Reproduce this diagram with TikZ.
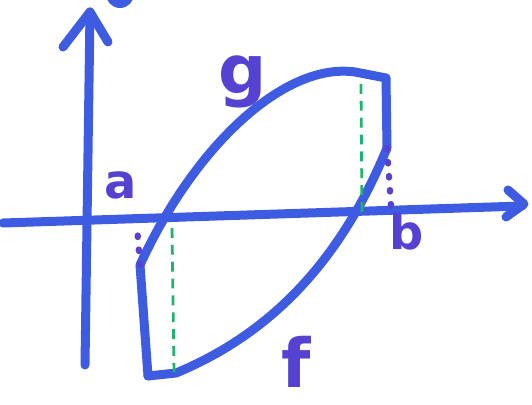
\documentclass[tikz,border=0pt]{standalone}
\usepackage{tikz}
\usepackage{fontspec}
\usetikzlibrary{calc}
\newfontfamily\handfont{DejaVu Sans}
\definecolor{penblue}{RGB}{62,92,226}
\definecolor{penpurple}{RGB}{86,66,210}
\definecolor{pengreen}{RGB}{30,180,110}

\tikzset{
  pen/.style={penblue, line width=6.4pt, line cap=round, line join=round},
  helper/.style={pengreen, line width=2pt, dash pattern=on 7pt off 5pt},
  dots/.style={penpurple, line width=4.5pt, line cap=round, dash pattern=on 1pt off 9pt},
  lbl/.style={penpurple, font=\handfont\bfseries\fontsize{34}{34}\selectfont, inner sep=0pt},
  biglbl/.style={lbl, font=\handfont\bfseries\fontsize{48}{48}\selectfont},
}

\begin{document}
\begin{tikzpicture}[x=0.025cm,y=-0.025cm]
  \useasboundingbox (0,0) rectangle (532,405);

  % corner points of the region
  \coordinate (ga) at (140,265);
  \coordinate (fa) at (148,376);
  \coordinate (gb) at (386,78);
  \coordinate (fb) at (387,148);
  \coordinate (xa) at (137,226);
  \coordinate (xb) at (391,206);

  % axes
  \draw[pen] (3,223) -- (522,206);
  \draw[pen] (508,190) -- (524,204) -- (506,217);
  \draw[pen] (85,365) -- (90,12);
  \draw[pen] (63,47) -- (90,12) -- (108,42);
  \fill[penblue] (120,-6) circle (14);

  % g (upper curve)
  \draw[pen] (ga) .. controls (195,145) and (285,62) .. (355,72) -- (gb);
  % f (lower curve)
  \draw[pen] (fa) -- (176,373) .. controls (280,330) and (345,250) .. (fb);

  % vertical sides at a and b
  \draw[pen] (ga) -- (fa);
  \draw[pen] (gb) -- (fb);
  \draw[dots] (ga) -- (xa);
  \draw[dots] (fb) -- (xb);

  % green strips
  \draw[helper] (172,228) -- (174,372);
  \draw[helper] (361,84) -- (362,216);

  % labels
  \node[lbl] (la) at (121,185) {a};
  \node[lbl] (lb) at (407,232) {b};
  \node[biglbl] (lg) at (243,82) {g};
  \node[biglbl] (lf) at (296,362) {f};
\end{tikzpicture}
\end{document}
